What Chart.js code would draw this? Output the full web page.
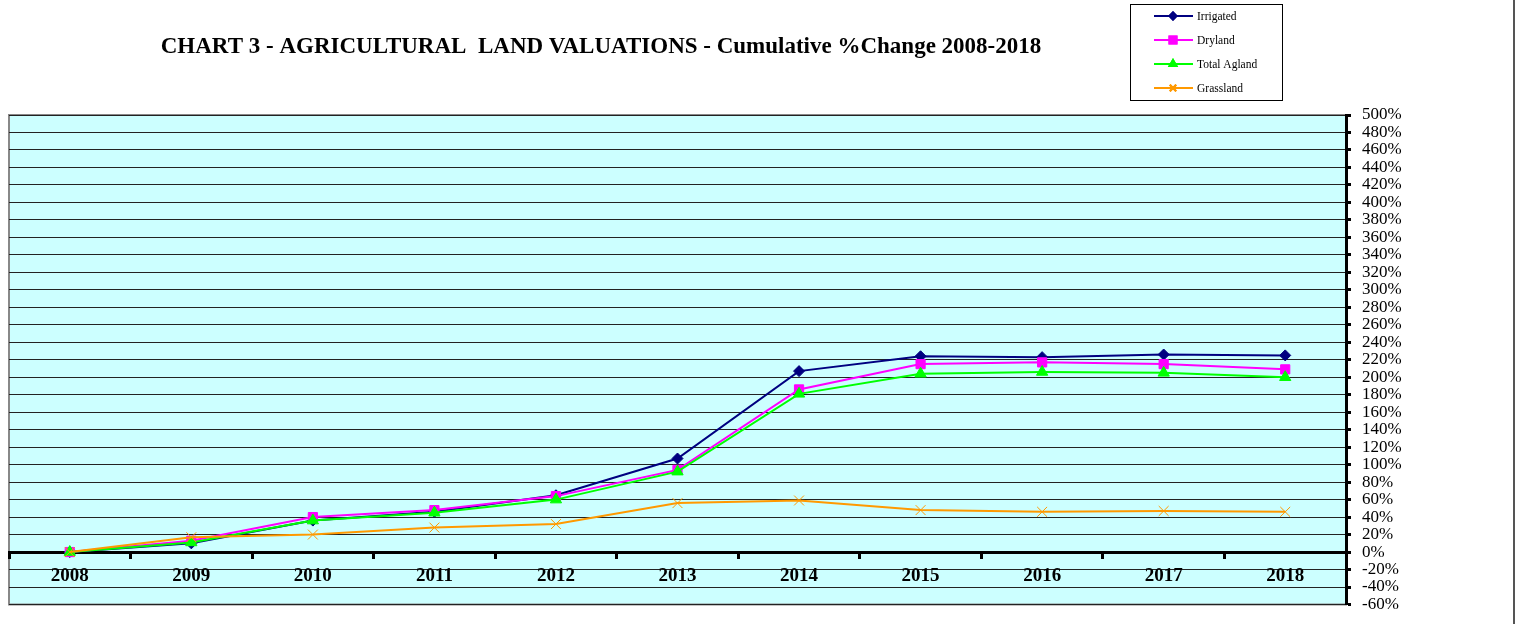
<!DOCTYPE html>
<html>
<head>
<meta charset="utf-8">
<script src="https://cdn.jsdelivr.net/npm/chart.js@4/dist/chart.umd.min.js"></script>
<style>
  body { margin: 0; background: #fff; }
</style>
</head>
<body>
<canvas id="myChart" width="1516" height="624"></canvas>
<script>
// data (cumulative % change)
const years = ['2008', '2009', '2010', '2011', '2012', '2013', '2014', '2015', '2016', '2017', '2018'];
const irrigated = [0, 10, 36, 46, 65, 107, 207, 224, 223, 226, 225];
const dryland = [0, 13, 40, 48, 64, 94, 186, 215, 217, 215, 209];
const totalAgland = [0, 11, 36, 45, 60, 92, 181, 204, 206, 205, 200];
const grassland = [0, 17, 20, 28, 32, 56, 59, 48, 46, 47, 46];

const titleText = 'CHART 3 - AGRICULTURAL  LAND VALUATIONS - Cumulative %Change 2008-2018';
const serif = 'Liberation Serif';

const series = [
    { label: 'Irrigated', data: irrigated, color: '#000080', style: 'rectRot', radius: 5.5, legendRadius: 3.5, order: 4 },
    { label: 'Dryland', data: dryland, color: '#FF00FF', style: 'rect', radius: 6.5, legendRadius: 5, order: 3 },
    { label: 'Total Agland', data: totalAgland, color: '#00FF00', style: 'triangle', radius: 6.5, legendRadius: 4, order: 2 },
    { label: 'Grassland', data: grassland, color: '#FF9900', style: 'crossRot', radius: 7, legendRadius: 4.5, order: 1 }
];

// plot background, frame, title and legend box
const decor = {
    id: 'decor',
    beforeDraw(chart) {
        const { ctx, chartArea: a } = chart;
        ctx.save();
        ctx.fillStyle = '#CCFFFF';
        ctx.fillRect(a.left, a.top, a.right - a.left, a.bottom - a.top);
        ctx.strokeStyle = '#888';
        ctx.lineWidth = 2;
        ctx.strokeRect(a.left, a.top, a.right - a.left, a.bottom - a.top);
        ctx.restore();
    },
    afterDraw(chart) {
        const ctx = chart.ctx;
        ctx.save();
        // title
        ctx.fillStyle = '#000';
        ctx.font = 'bold 23px "' + serif + '"';
        ctx.textAlign = 'center';
        ctx.textBaseline = 'middle';
        ctx.fillText(titleText, 601, 47);

        // legend
        ctx.strokeStyle = '#000';
        ctx.lineWidth = 1;
        ctx.strokeRect(1130.5, 4.5, 152, 96);
        ctx.font = '11.5px "' + serif + '"';
        ctx.textAlign = 'left';
        series.forEach((s, i) => {
            const y = 16 + i * 24;
            ctx.strokeStyle = s.color;
            ctx.lineWidth = 2;
            ctx.beginPath();
            ctx.moveTo(1154, y);
            ctx.lineTo(1193, y);
            ctx.stroke();
            Chart.helpers.drawPoint(ctx, {
                pointStyle: s.style,
                radius: s.legendRadius,
                borderWidth: 1
            }, 1173, y);
            ctx.fillStyle = s.color;
            ctx.fill();
            ctx.stroke();
            ctx.fillStyle = '#000';
            ctx.fillText(s.label, 1197, y + 1);
        });

        // page edge line on the right
        ctx.strokeStyle = '#555';
        ctx.lineWidth = 2;
        ctx.beginPath();
        ctx.moveTo(1514, 0);
        ctx.lineTo(1514, 624);
        ctx.stroke();
        ctx.restore();
    }
};

document.addEventListener('DOMContentLoaded', function() {
    const ctx = document.getElementById('myChart').getContext('2d');
    new Chart(ctx, {
        type: 'line',
        data: {
            labels: years,
            datasets: series.map(s => ({
                label: s.label,
                data: s.data,
                order: s.order,
                borderColor: s.color,
                backgroundColor: s.color,
                borderWidth: 2,
                pointStyle: s.style,
                pointRadius: s.radius,
                pointBorderWidth: 1,
                pointBackgroundColor: s.color,
                pointBorderColor: s.color,
                tension: 0,
                fill: false
            }))
        },
        options: {
            responsive: false,
            animation: false,
            layout: { padding: { left: 9, right: 100, top: 115, bottom: 0 } },
            scales: {
                x: {
                    position: { y: 0 },
                    offset: true,
                    grid: {
                        offset: true,
                        drawOnChartArea: false,
                        drawTicks: true,
                        tickLength: 5,
                        tickWidth: 3,
                        tickColor: '#000'
                    },
                    border: { color: '#000', width: 3 },
                    ticks: {
                        color: '#000',
                        padding: 8,
                        maxRotation: 0,
                        font: { family: serif, weight: 'bold', size: 19 }
                    },
                    afterFit: function(scale) { scale.height = 20; }
                },
                y: {
                    position: 'right',
                    min: -60,
                    max: 500,
                    grid: {
                        color: '#222',
                        lineWidth: 1,
                        tickLength: 5,
                        tickWidth: 3,
                        tickColor: '#000'
                    },
                    border: { color: '#000', width: 3 },
                    ticks: {
                        stepSize: 20,
                        autoSkip: false,
                        color: '#000',
                        padding: 11,
                        font: { family: serif, size: 17, lineHeight: 1 },
                        callback: v => v + '%'
                    },
                    afterFit: function(scale) { scale.width = 70; }
                }
            },
            plugins: {
                legend: { display: false },
                title: { display: false },
                tooltip: { enabled: false }
            }
        },
        plugins: [decor]
    });
});
</script>
</body>
</html>
